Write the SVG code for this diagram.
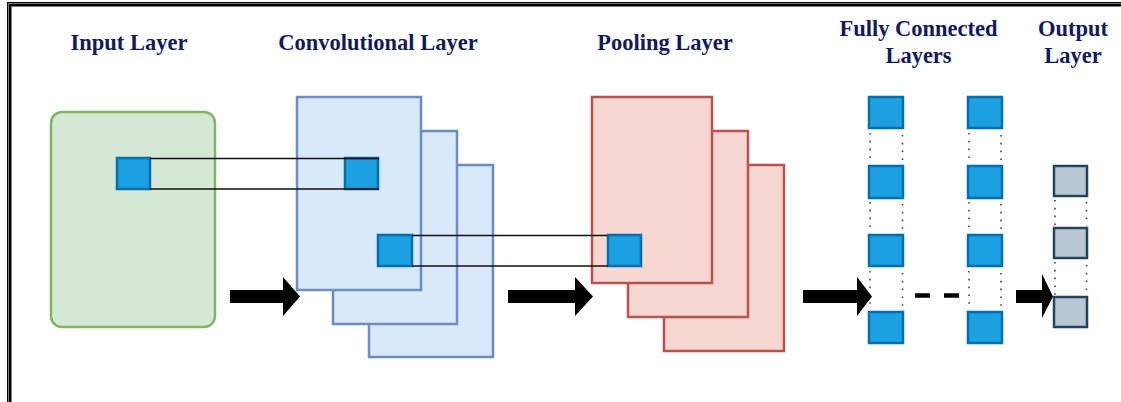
<svg xmlns="http://www.w3.org/2000/svg" width="1121" height="402" viewBox="0 0 1121 402">
  <defs>
    <style>
      .title { font-family: "Liberation Serif", "Times New Roman", serif; font-weight: bold; font-size: 22.5px; fill: #121a5c; text-anchor: middle; }
      .conv { fill: #dae8fc; stroke: #6c8ebf; stroke-width: 2.5; }
      .pool { fill: #f8d7d3; stroke: #b85450; stroke-width: 2.5; }
      .input { fill: #d5e8d4; stroke: #82b366; stroke-width: 2.5; }
      .cell { fill: #1ba1e2; stroke: #006eaf; stroke-width: 2.5; }
      .out { fill: #bac8d3; stroke: #23445d; stroke-width: 2.5; }
      .link { fill: none; stroke: #111; stroke-width: 1.5; }
      .dots { fill: none; stroke: #444; stroke-width: 1.6; stroke-dasharray: 1.6 6.2; }
      .arrow { fill: #000; }
    </style>
  </defs>

  <rect width="1121" height="402" fill="#fff"/>

  <!-- frame on the top and left edges -->
  <g id="frame">
    <path d="M9.5 402 V4.5 H1121" fill="none" stroke="#000" stroke-width="5"/>
    <path d="M8.5 402 V3.5 H1121" fill="none" stroke="#9a9a9a" stroke-width="0.8"/>
    <path d="M11.5 402 V6.5 H1121" fill="none" stroke="#9a9a9a" stroke-width="0.8"/>
  </g>

  <!-- column titles -->
  <g id="titles">
    <text class="title" x="129" y="50">Input Layer</text>
    <text class="title" x="378" y="50">Convolutional Layer</text>
    <text class="title" x="665" y="50">Pooling Layer</text>
    <text class="title" x="918.5" y="36">Fully Connected</text>
    <text class="title" x="918.5" y="63">Layers</text>
    <text class="title" x="1073" y="36">Output</text>
    <text class="title" x="1073" y="63">Layer</text>
  </g>

  <!-- input layer -->
  <g id="input-layer">
    <rect class="input" x="51" y="112" width="164" height="215" rx="11"/>
    <rect class="cell" x="117" y="158" width="33" height="31"/>
  </g>

  <!-- convolutional feature maps -->
  <g id="conv-layer">
    <rect class="conv" x="369" y="165" width="124" height="192"/>
    <rect class="conv" x="333" y="131" width="124" height="193"/>
    <rect class="conv" x="297" y="97" width="124" height="193"/>
    <rect class="cell" x="345" y="158" width="33" height="31"/>
    <rect class="cell" x="378" y="235" width="34" height="31"/>
  </g>

  <!-- pooling feature maps -->
  <g id="pooling-layer">
    <rect class="pool" x="664" y="165" width="120" height="186"/>
    <rect class="pool" x="628" y="131" width="120" height="186"/>
    <rect class="pool" x="592" y="97" width="120" height="186"/>
    <rect class="cell" x="608" y="235" width="33" height="31"/>
  </g>

  <!-- fully connected layers -->
  <g id="fc-layer-1">
    <rect class="cell" x="869" y="97" width="34" height="31"/>
    <rect class="cell" x="869" y="166" width="34" height="32"/>
    <rect class="cell" x="869" y="235" width="34" height="31"/>
    <rect class="cell" x="869" y="312" width="34" height="31"/>
  </g>
  <g id="fc-layer-2">
    <rect class="cell" x="968" y="97" width="34" height="31"/>
    <rect class="cell" x="968" y="166" width="34" height="32"/>
    <rect class="cell" x="968" y="235" width="34" height="31"/>
    <rect class="cell" x="968" y="312" width="34" height="31"/>
  </g>

  <!-- output layer -->
  <g id="output-layer">
    <rect class="out" x="1054" y="166" width="33" height="30"/>
    <rect class="out" x="1054" y="228" width="33" height="30"/>
    <rect class="out" x="1054" y="297" width="33" height="30"/>
  </g>

  <!-- connectors -->
  <g id="connectors">
    <!-- receptive field projections -->
    <path class="link" d="M150 158.5 H379 M150 189 H379"/>
    <path class="link" d="M412 235.5 H608 M412 266 H608"/>

    <!-- dotted links between stacked units -->
    <path class="dots" d="M870 133 V164 M902.5 135 V164 M870 202 V233 M902.5 204 V233 M870 271 V310 M902.5 273 V310"/>
    <path class="dots" d="M969 133 V164 M1001 135 V164 M969 202 V233 M1001 204 V233 M969 271 V310 M1001 273 V310"/>
    <path class="dots" d="M1055 200 V226 M1086.5 202 V226 M1055 262 V295 M1086.5 265 V295"/>

    <!-- gap between the dense layers -->
    <path d="M915 295.5 H930 M944 295.5 H959" stroke="#000" stroke-width="4.5" fill="none"/>

    <!-- flow arrows -->
    <path class="arrow" d="M230 290 H283 V277 L300 296.5 L283 316 V303 H230 Z"/>
    <path class="arrow" d="M508 290 H575 V277 L593 296.5 L575 316 V303 H508 Z"/>
    <path class="arrow" d="M803 290 H857 V277 L872 296.5 L857 316 V303 H803 Z"/>
    <path class="arrow" d="M1016 290 H1042 V274 L1053 296.5 L1042 318 V303 H1016 Z"/>
  </g>
</svg>
